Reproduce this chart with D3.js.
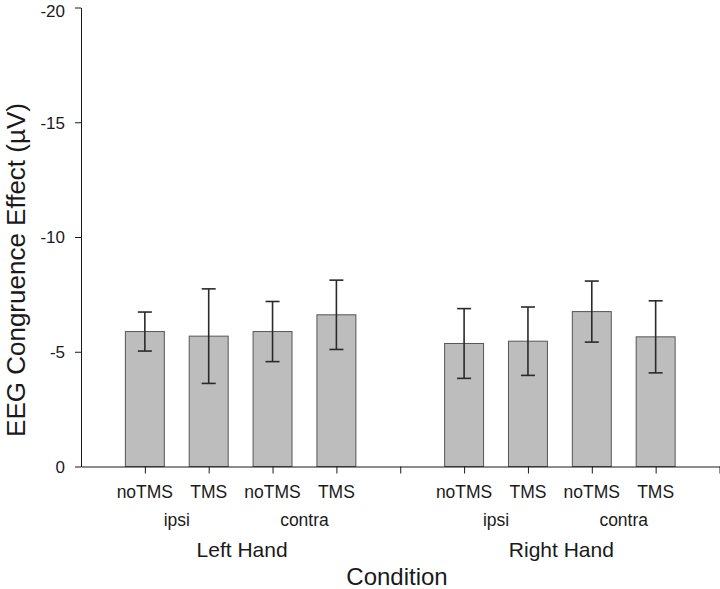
<!DOCTYPE html>
<html>
<head>
<meta charset="utf-8">
<script src="https://cdn.jsdelivr.net/npm/d3@7"></script>
<style>
  html, body { margin: 0; padding: 0; background: #fff; }
  svg { display: block; font-family: "Liberation Sans", Arial, sans-serif; }
</style>
</head>
<body>
<svg id="chart" width="720" height="589"></svg>
<script>
// ---- data ----
const conditions = ["noTMS", "TMS", "noTMS", "TMS", "noTMS", "TMS", "noTMS", "TMS"];
const sides = ["ipsi", "ipsi", "contra", "contra", "ipsi", "ipsi", "contra", "contra"];
const hands = ["Left Hand", "Left Hand", "Left Hand", "Left Hand", "Right Hand", "Right Hand", "Right Hand", "Right Hand"];
const slots = [1, 2, 3, 4, 6, 7, 8, 9];
const values = [-5.88, -5.68, -5.88, -6.61, -5.36, -5.46, -6.75, -5.65];
const errors = [0.85, 2.06, 1.31, 1.51, 1.52, 1.49, 1.33, 1.57];
const yTicks = [0, -5, -10, -15, -20];
const xTickSlots = [1, 2, 3, 4, 5, 6, 7, 8, 9, 10];
const yTitle = "EEG Congruence Effect (µV)";
const xTitle = "Condition";

// ---- layout ----
const svg = d3.select("#chart");
const x = d3.scaleLinear().domain([0, 10]).range([81, 719.5]);
const y = d3.scaleLinear().domain([0, -20]).range([466.5, 7.5]);
const barW = x(0.61) - x(0);
const capW = 14;
const ink = "#1a1a1a";

// bars
svg.append("g").selectAll("rect").data(values).join("rect")
  .attr("x", (d, i) => x(slots[i]) - barW / 2)
  .attr("y", d => y(d))
  .attr("width", barW)
  .attr("height", d => y(0) - y(d))
  .attr("fill", "#bdbdbd")
  .attr("stroke", "#555")
  .attr("stroke-width", 1);

// error bars
const eb = svg.append("g").attr("stroke", "#2a2a2a").attr("stroke-width", 1.6);
values.forEach((v, i) => {
  const cx = x(slots[i]);
  const hi = y(v - errors[i]), lo = y(v + errors[i]);
  eb.append("line").attr("x1", cx).attr("x2", cx).attr("y1", hi).attr("y2", lo);
  eb.append("line").attr("x1", cx - capW / 2).attr("x2", cx + capW / 2).attr("y1", hi).attr("y2", hi);
  eb.append("line").attr("x1", cx - capW / 2).attr("x2", cx + capW / 2).attr("y1", lo).attr("y2", lo);
});

// y axis
const yAxis = d3.axisLeft(y).tickValues(yTicks).tickSize(6).tickPadding(10).tickSizeOuter(0)
  .tickFormat(d => d === 0 ? "0" : String(d).replace("−", "-"));
const gy = svg.append("g").attr("transform", `translate(${x(0)},0)`).call(yAxis);
gy.selectAll("text").attr("font-size", 17).attr("fill", ink).attr("font-family", "Liberation Sans, Arial, sans-serif")
  .attr("dy", d => d === -20 ? "0.5em" : "0.35em");
gy.selectAll("line, path").attr("stroke", ink);

// x axis
const xAxis = d3.axisBottom(x).tickValues(xTickSlots).tickSize(7).tickSizeOuter(0).tickFormat("");
const gx = svg.append("g").attr("transform", `translate(0,${y(0)})`).call(xAxis);
gx.selectAll("line, path").attr("stroke", ink);

// condition labels
svg.append("g").selectAll("text").data(conditions).join("text")
  .attr("x", (d, i) => x(slots[i]))
  .attr("y", 498)
  .attr("text-anchor", "middle")
  .attr("font-size", 17.5)
  .attr("fill", ink)
  .text(d => d);

// side labels (centered under each pair)
const sideGroups = d3.groups(d3.range(values.length), i => hands[i] + "|" + sides[i]);
svg.append("g").selectAll("text").data(sideGroups).join("text")
  .attr("x", g => d3.mean(g[1], i => x(slots[i])))
  .attr("y", 526)
  .attr("text-anchor", "middle")
  .attr("font-size", 17.5)
  .attr("fill", ink)
  .text(g => sides[g[1][0]]);

// hand labels
const handGroups = d3.groups(d3.range(values.length), i => hands[i]);
svg.append("g").selectAll("text").data(handGroups).join("text")
  .attr("x", g => d3.mean(g[1], i => x(slots[i])) + 1.5)
  .attr("y", 557)
  .attr("text-anchor", "middle")
  .attr("font-size", 21)
  .attr("fill", ink)
  .text(g => g[0]);

// axis titles
svg.append("text")
  .attr("x", 397).attr("y", 585)
  .attr("text-anchor", "middle")
  .attr("font-size", 24)
  .attr("fill", ink)
  .text(xTitle);

svg.append("text")
  .attr("transform", "translate(25,270) rotate(-90)")
  .attr("text-anchor", "middle")
  .attr("font-size", 26)
  .attr("fill", ink)
  .text(yTitle);
</script>
</body>
</html>
